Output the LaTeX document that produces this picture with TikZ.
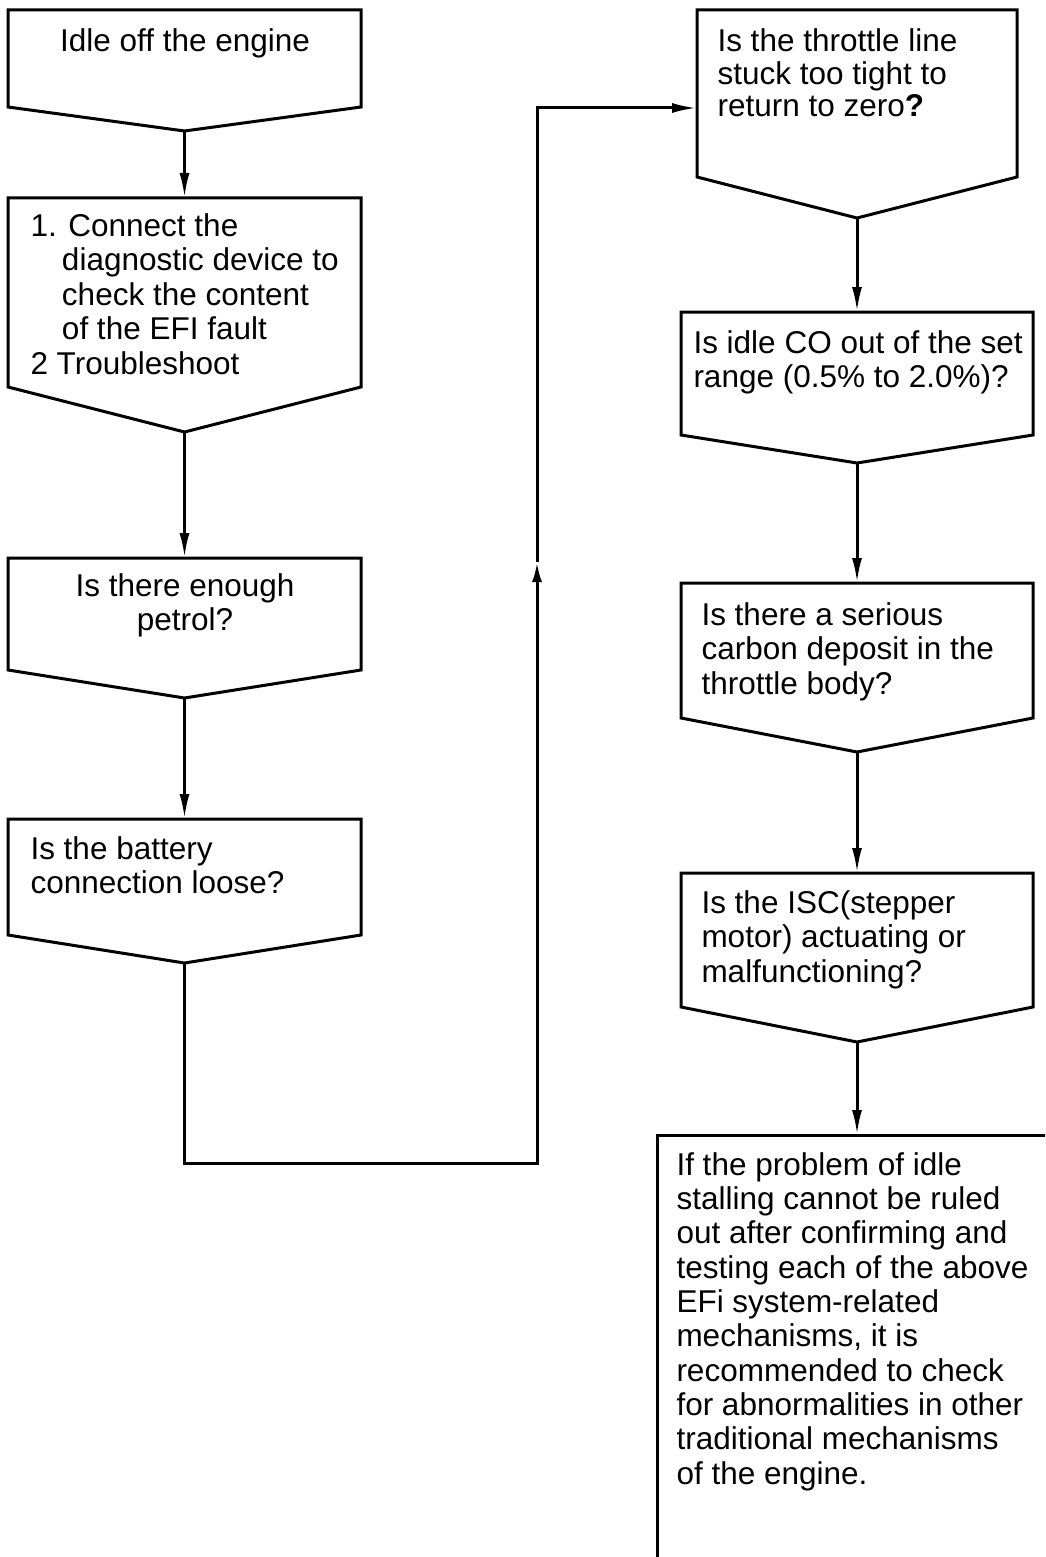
\documentclass[tikz,border=0pt]{standalone}
\usepackage{fontspec}
\setmainfont{Liberation Sans}
\usetikzlibrary{arrows.meta}
\begin{document}
\begin{tikzpicture}[x=1pt, y=-1pt, line width=3pt, >={Latex[length=25pt,width=10pt]},
  body/.style={minimum width=#1, outer sep=0pt, inner sep=0pt, anchor=north},
  txt/.style={inner sep=0pt, align=left, anchor=base west, font=\fontsize{31.5}{34.5}\selectfont}]
\useasboundingbox (0,0) rectangle (1045,1557);
\clip (0,0) rectangle (1045,1557);
\node[body=353pt, minimum height=97pt] (b1) at (184.5,10) {};
\node[body=353pt, minimum height=189pt] (b2) at (184.5,198) {};
\node[body=353pt, minimum height=112pt] (b3) at (184.5,558) {};
\node[body=353pt, minimum height=116pt] (b4) at (184.5,819) {};
\node[body=320pt, minimum height=167pt] (b5) at (857,10) {};
\node[body=352pt, minimum height=123pt] (b6) at (857,312) {};
\node[body=352pt, minimum height=135pt] (b7) at (857,583) {};
\node[body=352pt, minimum height=134pt] (b8) at (857,873) {};
\node[body=500pt, minimum height=600pt, anchor=north west, draw] (b9) at (657,1135) {};
\foreach \b/\d in {b1/24,b2/45,b3/28,b4/28,b5/41,b6/28,b7/34,b8/35}
  \draw (\b.north west) -- (\b.north east) -- (\b.south east)
    -- ([yshift=-\d pt]\b.south) coordinate (\b-tip) -- (\b.south west) -- cycle;
% multi-line texts sit on the baseline of their last line
\node[txt, anchor=base, align=center] (t1) at (185,52) {Idle off the engine};
\node[txt] (t2) at (29,374) {1. Connect the\\\hspace*{1em}diagnostic device to\\\hspace*{1em}check the content\\\hspace*{1em}of the EFI fault\\2 Troubleshoot};
\node[txt, anchor=base, align=center] (t3) at (185,630.5) {Is there enough\\petrol?};
\node[txt] (t4) at (29,893.5) {Is the battery\\connection loose?};
\node[txt, font=\fontsize{31.5}{32.5}\selectfont] (t5) at (716,117) {Is the throttle line\\stuck too tight to\\return to zero\textbf{?}};
\node[txt] (t6) at (692,387.5) {Is idle CO out of the set\\range (0.5\% to 2.0\%)?};
\node[txt] (t7) at (700,694) {Is there a serious\\carbon deposit in the\\throttle body?};
\node[txt] (t8) at (700,982) {Is the ISC(stepper\\motor) actuating or\\malfunctioning?};
\node[txt, font=\fontsize{31.5}{34.3}\selectfont] (t9) at (675,1484) {If the problem of idle\\stalling cannot be ruled\\out after confirming and\\testing each of the above\\EFi system-related\\mechanisms, it is\\recommended to check\\for abnormalities in other\\traditional mechanisms\\of the engine.};
\coordinate (low) at (537,1163);
\coordinate (mid) at (537,562);
\coordinate (high) at (537,108);
\draw[->] (b1-tip) -- (b2.north);
\draw[->] (b2-tip) -- (b3.north);
\draw[->] (b3-tip) -- (b4.north);
\draw[-{Latex[length=20pt,width=10pt]}] (b4-tip) |- (low) -- (mid);
\draw[->] (mid) -- (high) -- (high -| b5.west);
\draw[->] (b5-tip) -- (b6.north);
\draw[->] (b6-tip) -- (b7.north);
\draw[->] (b7-tip) -- (b8.north);
\draw[->] (b8-tip) -- (b8-tip |- b9.north);
\end{tikzpicture}
\end{document}
